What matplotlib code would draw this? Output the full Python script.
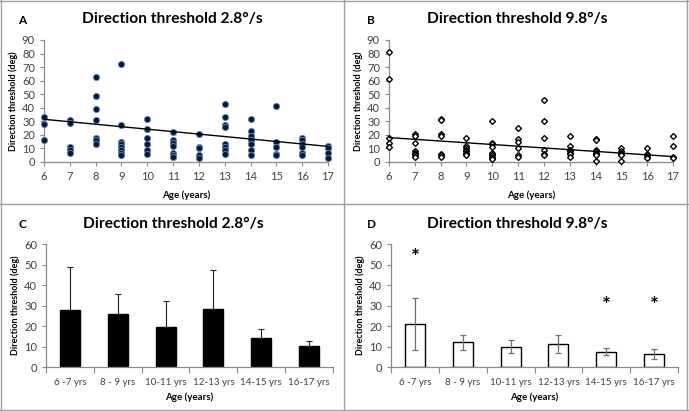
import numpy as np
import matplotlib
matplotlib.use("Agg")
import matplotlib.pyplot as plt
from matplotlib.lines import Line2D

plt.rcParams['font.family'] = ['Lato', 'DejaVu Sans']

# ---- data ----
ages = [6, 7, 8, 9, 10, 11, 12, 13, 14, 15, 16, 17]

# panel A: thresholds at 2.8 deg/s, per age
slow_pts = [
    [33, 28, 16],
    [31, 29, 11, 9, 7],
    [63, 49, 39, 31, 18, 16, 13],
    [72, 27, 15, 13, 11, 9, 7, 5],
    [32, 24, 18, 13, 9, 6],
    [22, 16, 14, 12, 7, 5, 4],
    [21, 11, 10, 5, 3],
    [43, 33, 27, 26, 13, 11, 9, 6],
    [32, 23, 19, 16, 13, 9, 5],
    [41, 15, 11, 6, 5],
    [18, 16, 13, 11, 7, 5],
    [12, 10, 7, 3],
]
slow_trend = [31.5, 11.5]   # fitted line at age 6 and 17

# panel B: thresholds at 9.8 deg/s, per age
fast_pts = [
    [81, 61, 18, 14, 11],
    [21, 19, 14, 8, 7, 6, 5, 4],
    [32, 31, 21, 19, 6, 5, 4],
    [18, 12, 10, 9, 8, 7, 6, 5],
    [30, 14, 13, 11, 7, 6, 5, 4, 3, 2],
    [25, 17, 15, 10, 5, 4],
    [46, 30, 18, 9, 6, 5],
    [19, 12, 9, 8, 7, 6, 4],
    [17, 16, 9, 8, 7, 6, 5, 1],
    [10, 8, 7, 6, 5, 1],
    [10, 6, 5, 4, 3],
    [19, 12, 4, 3],
]
fast_trend = [18, 4]

groups = ["6 -7 yrs", "8 - 9 yrs", "10-11 yrs", "12-13 yrs", "14-15 yrs", "16-17 yrs"]
slow_mean = [28, 26, 19.5, 28.5, 14.3, 10.2]
slow_sd = [21, 9.5, 12.5, 19, 4.2, 2.3]
fast_mean = [21, 12, 10, 11.2, 7.5, 6.5]
fast_sd = [12.5, 3.8, 3.3, 4.5, 1.8, 2.5]
star_y = [53, None, None, None, 30, 30]

W, H = 689, 411
fig = plt.figure(figsize=(W / 100, H / 100), dpi=100)

def px_axes(l, r, t, b):
    return fig.add_axes([l / W, 1 - b / H, (r - l) / W, (b - t) / H])

grey = "#8a8a8a"
tick_c = "#404040"

def style(ax):
    for s in ("top", "right"):
        ax.spines[s].set_visible(False)
    for s in ("left", "bottom"):
        ax.spines[s].set_color(grey)
        ax.spines[s].set_linewidth(0.9)
    ax.tick_params(colors=grey, labelcolor=tick_c, labelsize=8, length=3, width=0.8)
    ax.set_ylabel("Direction threshold (deg)", fontsize=6.5, fontweight="bold", labelpad=3)
    ax.set_xlabel("Age (years)", fontsize=7, fontweight="bold", labelpad=6)

def scatter_panel(ax, pts, trend, filled):
    for a, vals in zip(ages, pts):
        x = [a] * len(vals)
        if filled:
            ax.plot(x, vals, "o", ms=4.5, mfc="#0b1b36", mec="#5d86b8", mew=0.6,
                    ls="none", clip_on=False, zorder=3)
        else:
            ax.plot(x, vals, "D", ms=3.0, mfc="white", mec="black", mew=1.0,
                    ls="none", clip_on=False, zorder=3)
    ax.plot([ages[0], ages[-1]], trend, color="black", lw=1.0, zorder=4)
    ax.set_xlim(6, 17)
    ax.set_ylim(0, 90)
    ax.set_xticks(ages)
    ax.set_yticks(range(0, 91, 10))
    style(ax)

def bar_panel(ax, means, sd, filled):
    x = np.arange(len(groups))
    if filled:
        ax.bar(x, means, width=0.42, color="black", edgecolor="black", zorder=2)
        ax.errorbar(x, means, yerr=[np.zeros(len(sd)), sd], fmt="none",
                    ecolor="#222222", elinewidth=0.8, capsize=2.5, capthick=0.8, zorder=3)
    else:
        ax.bar(x, means, width=0.42, color="white", edgecolor="black", lw=1.0, zorder=2)
        ax.errorbar(x, means, yerr=sd, fmt="none", ecolor="#707070",
                    elinewidth=0.9, capsize=2.5, capthick=0.9, zorder=3)
    ax.set_xlim(-0.5, len(groups) - 0.5)
    ax.set_ylim(0, 60)
    ax.set_yticks(range(0, 61, 10))
    ax.set_xticks(x)
    style(ax)
    ax.set_xticklabels(groups, fontsize=7)
    ax.set_xticks(np.arange(-0.5, len(groups)), minor=True)
    ax.tick_params(axis="x", which="major", length=0, pad=8)
    ax.tick_params(axis="x", which="minor", length=4, color=grey, width=0.8)
    ax.set_xlabel("Age (years)", fontsize=7, fontweight="bold", labelpad=4)

axA = px_axes(44, 328, 40, 162)
scatter_panel(axA, slow_pts, slow_trend, True)
axB = px_axes(389, 673, 40, 162)
scatter_panel(axB, fast_pts, fast_trend, False)
axC = px_axes(46, 333, 244, 367)
bar_panel(axC, slow_mean, slow_sd, True)
axD = px_axes(391, 678, 244, 367)
bar_panel(axD, fast_mean, fast_sd, False)
for i, s in enumerate(star_y):
    if s is not None:
        axD.text(i, s, "*", ha="center", va="center", fontsize=15, fontweight="bold")

# titles and panel letters
for cx, cy, title in [(172, 19, "Direction threshold 2.8°/s"), (517, 19, "Direction threshold 9.8°/s"),
                      (173, 224, "Direction threshold 2.8°/s"), (517, 224, "Direction threshold 9.8°/s")]:
    fig.text(cx / W, 1 - cy / H, title, ha="center", va="center", fontsize=11.2, fontweight="bold")
for cx, cy, letter in [(22, 20, "A"), (371, 20, "B"), (22, 224, "C"), (371, 224, "D")]:
    fig.text(cx / W, 1 - cy / H, letter, ha="center", va="center", fontsize=8.5, fontweight="bold")

# panel frames
fc = "#a0a0a0"
for x in (1, 344, 687):
    fig.add_artist(Line2D([x / W, x / W], [0, 1], color=fc, lw=1.0))
for y in (1, 204, 410):
    fig.add_artist(Line2D([0, 1], [1 - y / H, 1 - y / H], color=fc, lw=1.0))

fig.savefig("out.png", dpi=100)
